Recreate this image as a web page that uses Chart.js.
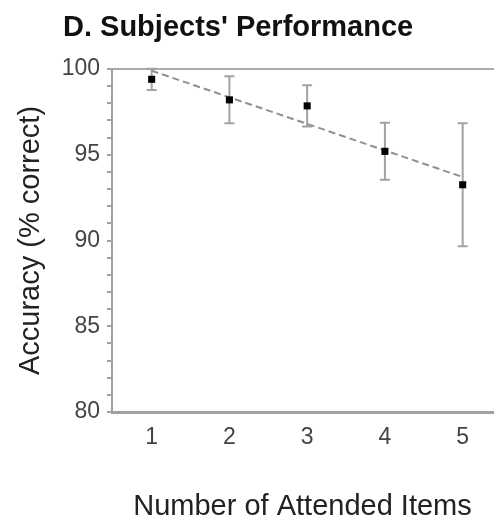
<!DOCTYPE html>
<html>
<head>
<meta charset="utf-8">
<script src="https://cdn.jsdelivr.net/npm/chart.js@4/dist/chart.umd.min.js"></script>
<style>
  body { margin: 0; background: #fff; }
  #wrap { width: 498px; height: 524px; position: relative; }
</style>
</head>
<body>
<div id="wrap"><canvas id="chart"></canvas></div>
<script>
// data
const itemCounts = [1, 2, 3, 4, 5];
const meanAccuracy = [99.4, 98.2, 97.85, 95.2, 93.25];
const errAccuracy = [0.62, 1.37, 1.2, 1.66, 3.58];
// dashed trend line endpoints
const fitX = [1, 5];
const fitY = [99.9, 93.7];
const yTickLabels = [80, 85, 90, 95, 100];

const chartTitle = "D. Subjects' Performance";
const FONT = '"Liberation Sans", Arial, sans-serif';

// error bars drawn under the points
const errorBars = {
  id: 'errorBars',
  beforeDatasetsDraw(chart) {
    const { ctx, scales: { x, y } } = chart;
    ctx.save();
    ctx.strokeStyle = '#a2a2a2';
    ctx.lineWidth = 2;
    itemCounts.forEach((n, i) => {
      const px = x.getPixelForValue(n);
      const top = y.getPixelForValue(meanAccuracy[i] + errAccuracy[i]);
      const bot = y.getPixelForValue(meanAccuracy[i] - errAccuracy[i]);
      ctx.beginPath();
      ctx.moveTo(px, top); ctx.lineTo(px, bot);
      ctx.moveTo(px - 5, top); ctx.lineTo(px + 5, top);
      ctx.moveTo(px - 5, bot); ctx.lineTo(px + 5, bot);
      ctx.stroke();
    });
    ctx.restore();
  }
};

// panel title, left aligned like the original figure
const panelTitle = {
  id: 'panelTitle',
  afterDraw(chart) {
    const ctx = chart.ctx;
    ctx.save();
    ctx.font = 'bold 29px ' + FONT;
    ctx.fillStyle = '#111';
    ctx.textBaseline = 'alphabetic';
    ctx.textAlign = 'left';
    ctx.fillText(chartTitle, 63, 36);
    ctx.restore();
  }
};

new Chart(document.getElementById('chart'), {
  type: 'scatter',
  data: {
    datasets: [
      {
        label: 'Accuracy',
        data: itemCounts.map((n, i) => ({ x: n, y: meanAccuracy[i] })),
        pointStyle: 'rect',
        pointRadius: 5,
        backgroundColor: '#000',
        borderColor: '#000',
        borderWidth: 0,
        order: 1
      },
      {
        type: 'line',
        label: 'Fit',
        data: fitX.map((n, i) => ({ x: n, y: fitY[i] })),
        borderColor: '#909090',
        borderWidth: 2,
        borderDash: [7, 4],
        pointRadius: 0,
        fill: false,
        order: 2
      }
    ]
  },
  options: {
    responsive: true,
    maintainAspectRatio: false,
    animation: false,
    layout: { padding: { top: 69, left: 0, right: 0, bottom: 0 } },
    plugins: {
      legend: { display: false },
      tooltip: { enabled: false },
      title: { display: false }
    },
    scales: {
      x: {
        type: 'linear',
        min: 0.49,
        max: 5.39,
        afterBuildTicks: (axis) => { axis.ticks = itemCounts.map(v => ({ value: v })); },
        afterFit: (axis) => { axis.height = 112; },
        grid: { display: false, drawTicks: false },
        border: { display: true, color: '#a0a0a0', width: 3 },
        ticks: {
          padding: 12,
          color: '#444',
          font: { family: FONT, size: 23 }
        },
        title: {
          display: true,
          text: 'Number of Attended Items',
          color: '#222',
          padding: { top: 0, bottom: 0 },
          font: { family: FONT, size: 29 }
        }
      },
      xTop: {
        type: 'linear',
        position: 'top',
        min: 0.49,
        max: 5.39,
        afterFit: (axis) => { axis.height = 0; },
        grid: { display: false, drawTicks: false },
        border: { display: true, color: '#aaaaaa', width: 2 },
        ticks: { display: false }
      },
      y: {
        min: 80,
        max: 100,
        afterFit: (axis) => { axis.width = 112; },
        grid: {
          drawOnChartArea: false,
          drawTicks: true,
          tickLength: 5,
          color: '#a0a0a0',
          lineWidth: 2
        },
        border: { display: true, color: '#a0a0a0', width: 2 },
        ticks: {
          stepSize: 1,
          autoSkip: false,
          padding: 7,
          color: '#444',
          font: { family: FONT, size: 23 },
          callback: (v) => yTickLabels.includes(v) ? String(v) : ''
        },
        title: {
          display: true,
          text: 'Accuracy (% correct)',
          color: '#222',
          padding: { top: 14, bottom: 0 },
          font: { family: FONT, size: 29 }
        }
      }
    }
  },
  plugins: [errorBars, panelTitle]
});
</script>
</body>
</html>
